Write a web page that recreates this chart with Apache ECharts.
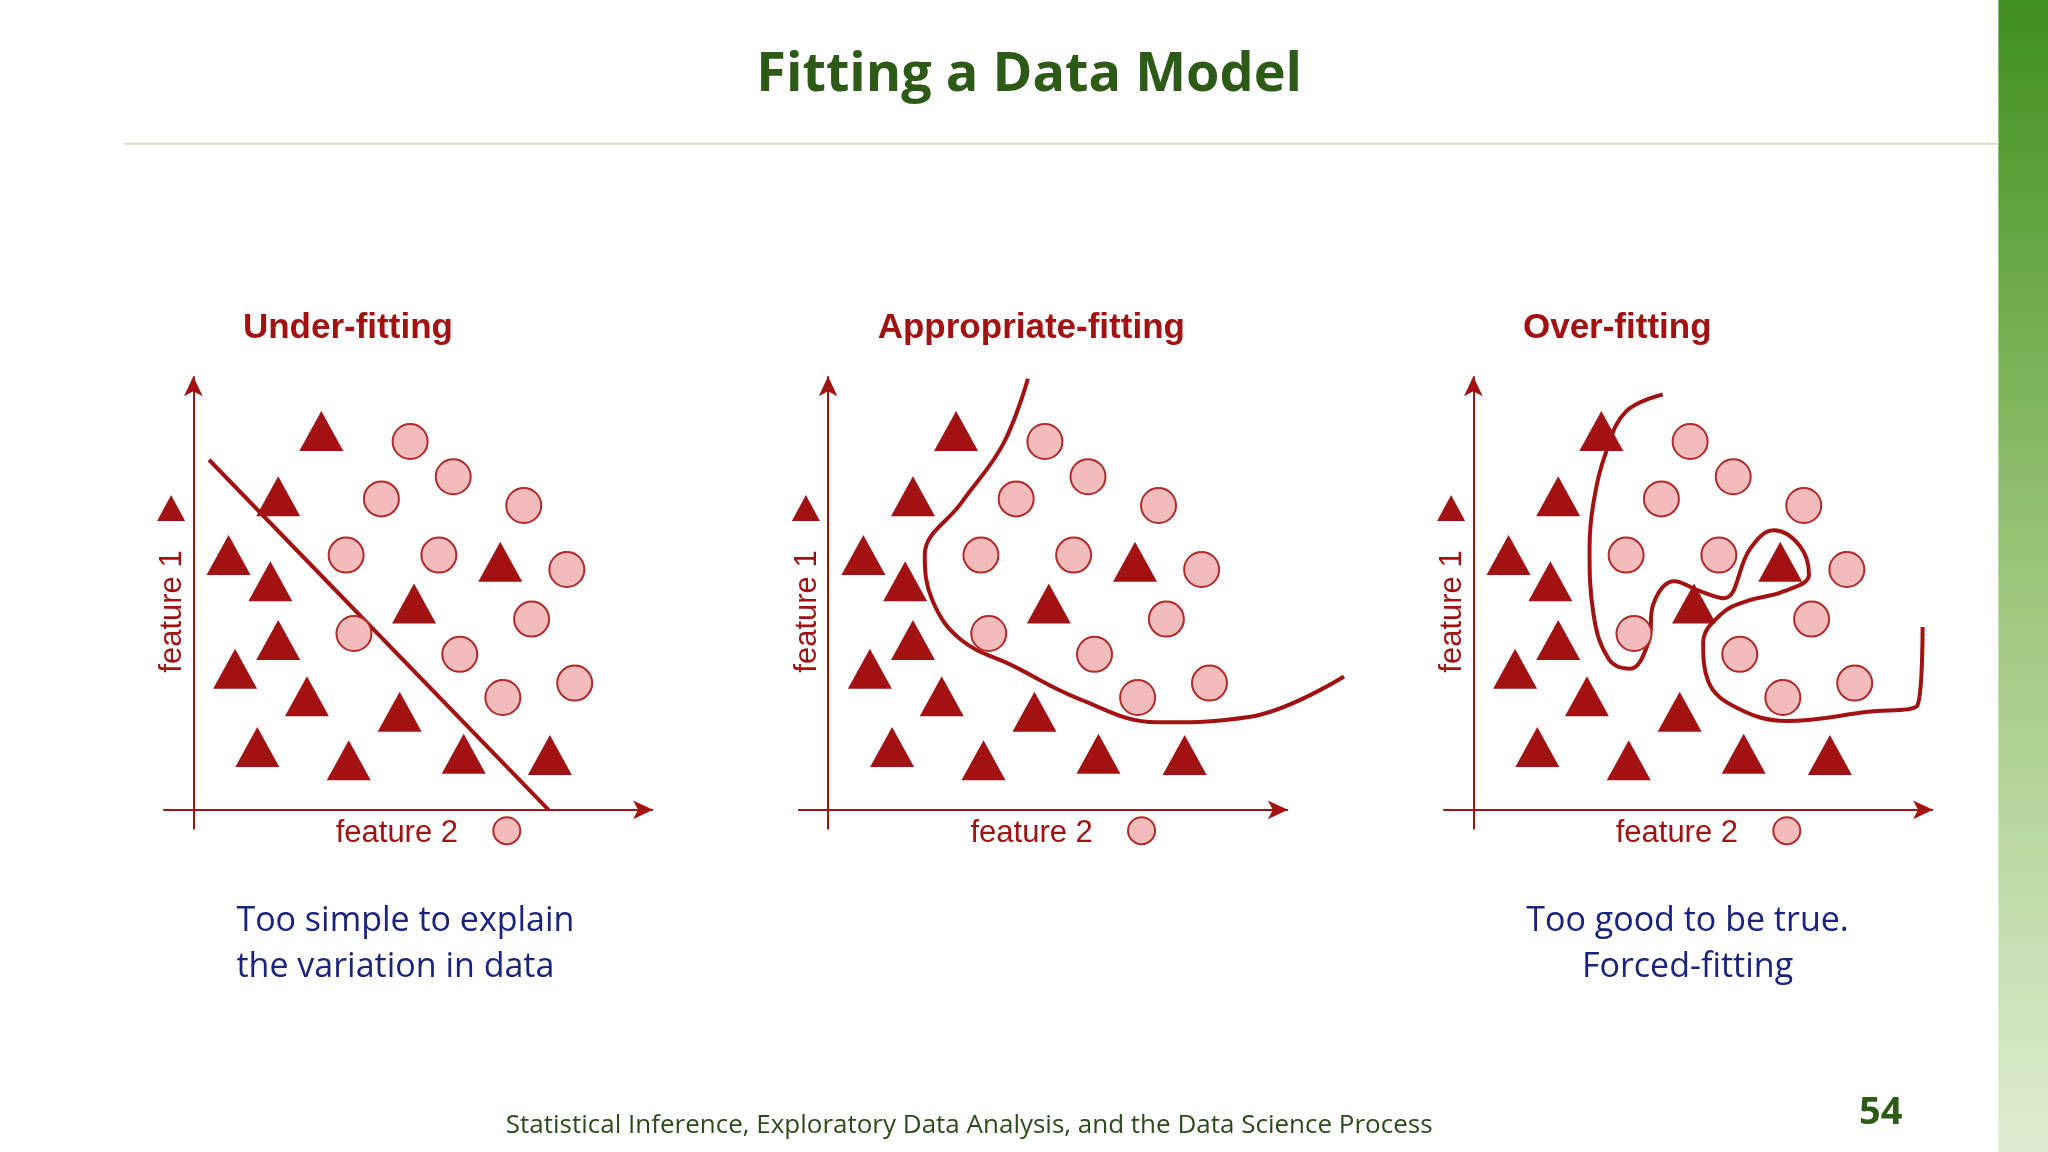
<!DOCTYPE html>
<html lang="en">
<head>
<meta charset="UTF-8">
<title>Fitting a Data Model</title>
<script src="https://cdn.jsdelivr.net/npm/echarts@6/dist/echarts.min.js"></script>
<style>html,body{margin:0;padding:0;background:#fff}#chart{width:2048px;height:1152px}</style>
</head>
<body>
<div id="chart"></div>
<script>
// positions in panel units (same layout for all three panels)
var triangles = [[246,330],[213,380],[175,425],[207,445],[317,462],[383,430],[213,490],[180,512],[235,533],[306,545],[197,572],[267,582],[355,577],[421,578]];
var circles = [[314,338],[347,365],[292,382],[401,387],[265,425],[336,425],[434,436],[407,474],[271,485],[352,501],[385,534],[440,523]];
var legendTri = [[131,389]];
var legendCirc = [[388,636]];
var underLine = [[160,352],[420,620]];
var goodCurve = [[301,290],[282,340],[250,385],[222,425],[228,460],[250,490],[290,510],[340,535],[400,553],[470,549],[543,518]];
var overCurve = [[293,302],[265,315],[250,345],[240,385],[237,420],[240,470],[252,505],[268,512],[282,492],[286,462],[302,445],[320,452],[340,458],[360,420],[378,406],[398,418],[405,440],[385,453],[358,460],[338,470],[324,492],[328,522],[350,542],[388,552],[450,545],[488,540],[492,480]];
var panelTitles = ['Under-fitting','Appropriate-fitting','Over-fitting'];
var panelCurves = [underLine, goodCurve, overCurve];
var panelLeft = [125, 611, 1105];

var S = 2048/1568;
var chart = echarts.init(document.getElementById('chart'));
var grids = [], xAxes = [], yAxes = [], series = [], graphics = [];
var red = '#a31212';
panelLeft.forEach(function (l, i) {
  grids.push({left: l*S, top: 288*S, width: 435*S, height: 360*S});
  xAxes.push({gridIndex: i, type: 'value', min: 125, max: 560, show: false});
  yAxes.push({gridIndex: i, type: 'value', min: 288, max: 648, inverse: true, show: false});
  series.push({type: 'line', xAxisIndex: i, yAxisIndex: i, data: panelCurves[i], smooth: i > 0 ? 0.4 : false,
    showSymbol: false, lineStyle: {color: red, width: 4}, z: 3,
    markLine: {silent: true, symbol: ['none', 'arrow'], symbolSize: [14, 20], label: {show: false},
      lineStyle: {color: red, width: 2, type: 'solid'},
      data: [[{coord: [148, 635]}, {coord: [148, 288]}], [{coord: [125, 620]}, {coord: [500, 620]}]]}});
  series.push({type: 'scatter', xAxisIndex: i, yAxisIndex: i, data: triangles, symbol: 'triangle',
    symbolSize: [44, 40], itemStyle: {color: red, opacity: 1}, z: 4});
  series.push({type: 'scatter', xAxisIndex: i, yAxisIndex: i, data: legendTri, symbol: 'triangle',
    symbolSize: [28, 26], itemStyle: {color: red, opacity: 1}, z: 4});
  series.push({type: 'scatter', xAxisIndex: i, yAxisIndex: i, data: circles, symbol: 'circle',
    symbolSize: 35, itemStyle: {color: '#f2bcbc', borderColor: '#b02a2a', borderWidth: 2, opacity: 1}, z: 4});
  series.push({type: 'scatter', xAxisIndex: i, yAxisIndex: i, data: legendCirc, symbol: 'circle',
    symbolSize: 27, itemStyle: {color: '#f2bcbc', borderColor: '#b02a2a', borderWidth: 2, opacity: 1}, z: 4});
  var off = (l - 125) * S;
  graphics.push({type: 'text', left: off + 186*S, top: 238*S, style: {text: panelTitles[i], fill: red, font: 'bold 35px "Liberation Sans", Arial'}});
  graphics.push({type: 'text', x: off + 257*S, y: 626*S, style: {text: 'feature 2', fill: red, font: '31px "Liberation Sans", Arial'}});
  graphics.push({type: 'text', x: off + 120*S, y: 515*S, rotation: Math.PI/2, style: {text: 'feature 1', fill: red, font: '31px "Liberation Sans", Arial'}});
});
graphics.push(
  {type: 'rect', shape: {x: 1530*S, y: 0, width: 60, height: 1152}, style: {fill: new echarts.graphic.LinearGradient(0,0,0,1,[{offset:0,color:'#3f8f1e'},{offset:0.5,color:'#9cc67a'},{offset:1,color:'#dfeed2'}])}},
  {type: 'line', shape: {x1: 95*S, y1: 110*S, x2: 1530*S, y2: 110*S}, style: {stroke: '#d8dcc4', lineWidth: 2}},
  {type: 'text', x: 788*S, y: 58*S, style: {text: 'Fitting a Data Model', fill: '#2d5a16', font: 'bold 54px "Open Sans", Calibri, sans-serif', align: 'center', verticalAlign: 'middle'}},
  {type: 'text', x: 181*S, y: 688*S, style: {text: 'Too simple to explain\nthe variation in data', fill: '#1a237e', font: '34px "Open Sans", sans-serif', lineHeight: 46}},
  {type: 'text', x: 1292*S, y: 688*S, style: {text: 'Too good to be true.\nForced-fitting', fill: '#1a237e', font: '34px "Open Sans", sans-serif', lineHeight: 46, align: 'center'}},
  {type: 'text', x: 742*S, y: 862*S, style: {text: 'Statistical Inference, Exploratory Data Analysis, and the Data Science Process', fill: '#2d4a1a', font: '26px "Open Sans", sans-serif', align: 'center', verticalAlign: 'middle'}},
  {type: 'text', x: 1440*S, y: 852*S, style: {text: '54', fill: '#2d5a16', font: 'bold 38px "Open Sans", sans-serif', align: 'center', verticalAlign: 'middle'}}
);
chart.setOption({animation: false, grid: grids, xAxis: xAxes, yAxis: yAxes, series: series, graphic: graphics});
</script>
</body>
</html>
